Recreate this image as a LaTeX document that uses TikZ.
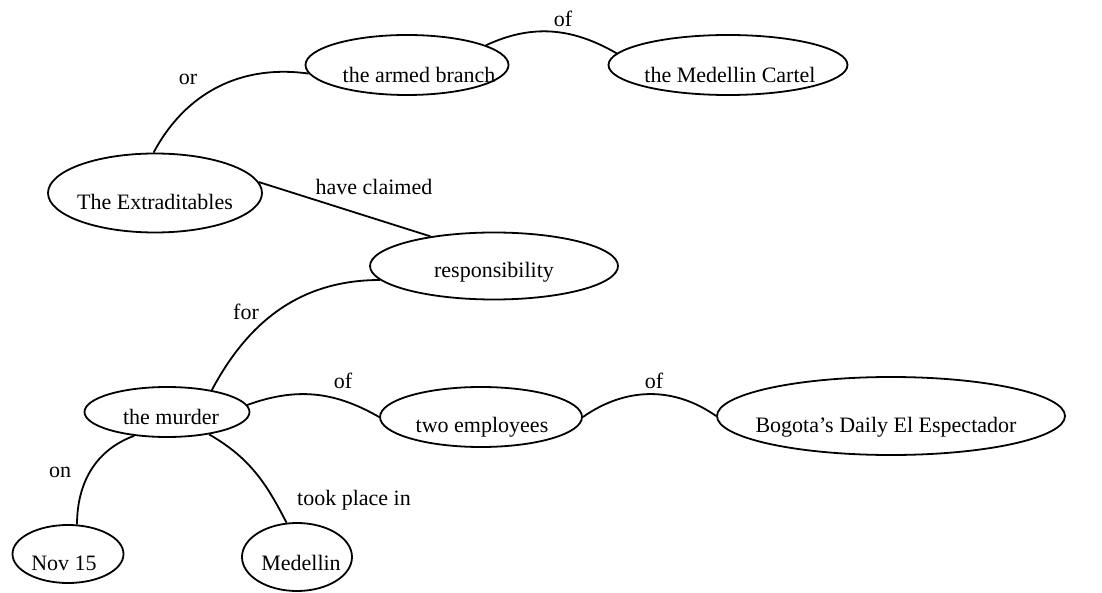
\documentclass[tikz,border=0pt]{standalone}
\usepackage{fontspec}
\setmainfont{Liberation Serif}
\usetikzlibrary{shapes.geometric}
\begin{document}
\begin{tikzpicture}[x=1pt,y=1pt,
  oval/.style={ellipse, draw, line width=1.8pt, inner sep=0pt},
  intext/.style={anchor=base, inner sep=0pt, font=\fontsize{22}{26}\selectfont},
  rel/.style={line width=1.8pt},
  rellbl/.style={anchor=base, inner sep=0pt, font=\fontsize{22}{26}\selectfont}]
\useasboundingbox (0,0) rectangle (1102,592);
\fill[white] (0,0) rectangle (1102,592);
% concept nodes
\node[oval, minimum width=203pt, minimum height=60pt,
  label={[intext, xshift=12pt, yshift=-10pt]center:the armed branch}] (arm) at (407,527) {};
\node[oval, minimum width=239pt, minimum height=60pt,
  label={[intext, xshift=2pt, yshift=-10pt]center:the Medellin Cartel}] (mc) at (728,527) {};
\node[oval, minimum width=214pt, minimum height=79pt,
  label={[intext, yshift=-9pt]center:The Extraditables}] (ext) at (155,399) {};
\node[oval, minimum width=248pt, minimum height=67pt,
  label={[intext, yshift=-6pt]center:responsibility}] (resp) at (494,326) {};
\node[oval, minimum width=165pt, minimum height=50pt,
  label={[intext, xshift=4pt, yshift=-5pt]center:the murder}] (mur) at (167,180) {};
\node[oval, minimum width=202pt, minimum height=60pt,
  label={[intext, xshift=1pt, yshift=-10pt]center:two employees}] (two) at (481,175) {};
\node[oval, minimum width=348pt, minimum height=78pt,
  label={[intext, xshift=-5pt, yshift=-11pt]center:Bogota’s Daily El Espectador}] (bog) at (891,176) {};
\node[oval, minimum width=111pt, minimum height=58pt,
  label={[intext, xshift=-4pt, yshift=-9pt]center:Nov 15}] (nov) at (68,38) {};
\node[oval, minimum width=110pt, minimum height=68pt,
  label={[intext, xshift=4pt, yshift=-6pt]center:Medellin}] (med) at (297,35) {};
% connectors
\draw[rel] (ext.92) to[out=62,in=172] (arm.185);
\draw[rel] (arm.14) to[out=25,in=150] (mc.174);
\draw[rel] (ext.6) -- (resp.155);
\draw[rel] (mur.26) to[out=62,in=180] (resp.187);
\draw[rel] (mur.5) to[out=20,in=150] (two.180);
\draw[rel] (two.0) to[out=35,in=145] (bog.180);
\draw[rel] (mur.216) to[out=200,in=90] (nov.73);
\draw[rel] (mur.-28) to[out=-30,in=117] (med.107);
% relation labels
\node[rellbl] (lor) at (188,507) {or};
\node[rellbl] (lof1) at (563,565) {of};
\node[rellbl] (lhc) at (374,397) {have claimed};
\node[rellbl] (lfor) at (246,272) {for};
\node[rellbl] (lof2) at (343,204) {of};
\node[rellbl] (lof3) at (654,204) {of};
\node[rellbl] (lon) at (60,115) {on};
\node[rellbl] (ltp) at (354,87) {took place in};
\end{tikzpicture}
\end{document}
